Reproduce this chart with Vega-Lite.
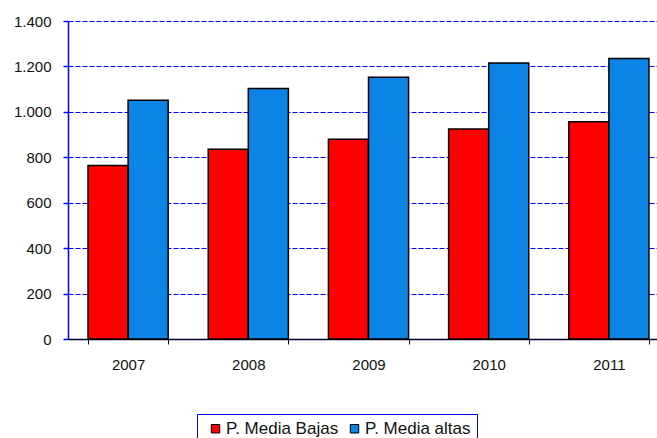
{
  "$schema": "https://vega.github.io/schema/vega-lite/v6.json",
  "width": 601,
  "height": 318,
  "autosize": "none",
  "padding": {"left": 68, "top": 21, "right": 0, "bottom": 99},
  "config": {"view": {"stroke": null}, "font": "Liberation Sans"},
  "data": {
    "values": [
      {"year": "2007", "serie": "P. Media Bajas", "value": 764},
      {"year": "2007", "serie": "P. Media altas", "value": 1051},
      {"year": "2008", "serie": "P. Media Bajas", "value": 835},
      {"year": "2008", "serie": "P. Media altas", "value": 1103},
      {"year": "2009", "serie": "P. Media Bajas", "value": 879},
      {"year": "2009", "serie": "P. Media altas", "value": 1152},
      {"year": "2010", "serie": "P. Media Bajas", "value": 924},
      {"year": "2010", "serie": "P. Media altas", "value": 1215},
      {"year": "2011", "serie": "P. Media Bajas", "value": 956},
      {"year": "2011", "serie": "P. Media altas", "value": 1235}
    ]
  },
  "mark": {"type": "bar", "stroke": "#000000", "strokeWidth": 1.5},
  "encoding": {
    "x": {
      "field": "year",
      "type": "nominal",
      "scale": {"paddingInner": 0.3333, "paddingOuter": 0.1667},
      "axis": {
        "title": null,
        "labelAngle": 0,
        "tickBand": "extent",
        "domainColor": "#000033",
        "domainWidth": 1.5,
        "tickColor": "#000033",
        "tickSize": 5,
        "labelPadding": 13,
        "labelFontSize": 15,
        "labelColor": "#111111",
        "grid": false
      }
    },
    "xOffset": {"field": "serie", "sort": ["P. Media Bajas", "P. Media altas"]},
    "y": {
      "field": "value",
      "type": "quantitative",
      "scale": {"domain": [0, 1400], "nice": false},
      "axis": {
        "title": null,
        "values": [0, 200, 400, 600, 800, 1000, 1200, 1400],
        "labelExpr": "replace(format(datum.value, ','), ',', '.')",
        "domainColor": "#0000ff",
        "domainWidth": 1.5,
        "tickColor": "#0000ff",
        "tickSize": 5,
        "tickWidth": 1.5,
        "labelPadding": 12,
        "labelFontSize": 15,
        "labelColor": "#111111",
        "grid": true,
        "gridColor": "#0000ff",
        "gridDash": [5, 2],
        "gridWidth": 1.2
      }
    },
    "color": {
      "field": "serie",
      "type": "nominal",
      "scale": {"domain": ["P. Media Bajas", "P. Media altas"], "range": ["#ff0000", "#0b84e6"]},
      "legend": {
        "title": null,
        "orient": "none",
        "direction": "horizontal",
        "legendX": 129,
        "legendY": 393,
        "strokeColor": "#0000ff",
        "padding": 6,
        "symbolType": "square",
        "symbolSize": 72,
        "symbolStrokeColor": "#000000",
        "symbolStrokeWidth": 1,
        "symbolOffset": 4,
        "labelFontSize": 17,
        "labelColor": "#111111",
        "labelOffset": 2,
        "columnPadding": 3
      }
    }
  }
}
